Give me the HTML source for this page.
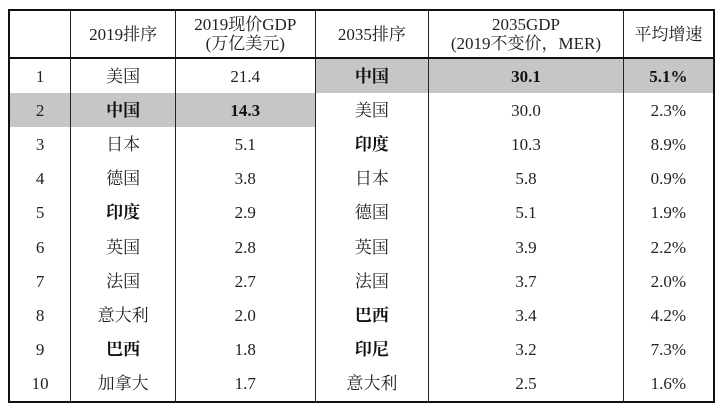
<!DOCTYPE html>
<html><head><meta charset="utf-8"><style>
body{margin:0;background:#fff;width:725px;height:409px;overflow:hidden;position:relative}
table{position:absolute;left:8px;top:9px;width:707px;border-collapse:collapse;font-family:"Liberation Serif","Noto Serif CJK SC",serif;font-size:17px;color:#222;border:2px solid #111}
td{text-align:center;padding:0;border-left:1.5px solid #222;border-right:1.5px solid #222;height:34.2px;line-height:19px}
tr.h td{height:46px;border-bottom:2px solid #111}
.g{background:#c6c6c6}
b{font-weight:bold;color:#111}
</style></head><body>
<table>
<colgroup><col style="width:62px"><col style="width:105px"><col style="width:140px"><col style="width:114px"><col style="width:195px"><col style="width:91px"></colgroup>
<tr class="h"><td></td><td>2019排序</td><td>2019现价GDP<br>(万亿美元)</td><td>2035排序</td><td>2035GDP<br>(2019不变价，MER)</td><td>平均增速</td></tr>
<tr><td>1</td><td>美国</td><td>21.4</td><td class="g"><b>中国</b></td><td class="g"><b>30.1</b></td><td class="g"><b>5.1%</b></td></tr>
<tr><td class="g">2</td><td class="g"><b>中国</b></td><td class="g"><b>14.3</b></td><td>美国</td><td>30.0</td><td>2.3%</td></tr>
<tr><td>3</td><td>日本</td><td>5.1</td><td><b>印度</b></td><td>10.3</td><td>8.9%</td></tr>
<tr><td>4</td><td>德国</td><td>3.8</td><td>日本</td><td>5.8</td><td>0.9%</td></tr>
<tr><td>5</td><td><b>印度</b></td><td>2.9</td><td>德国</td><td>5.1</td><td>1.9%</td></tr>
<tr><td>6</td><td>英国</td><td>2.8</td><td>英国</td><td>3.9</td><td>2.2%</td></tr>
<tr><td>7</td><td>法国</td><td>2.7</td><td>法国</td><td>3.7</td><td>2.0%</td></tr>
<tr><td>8</td><td>意大利</td><td>2.0</td><td><b>巴西</b></td><td>3.4</td><td>4.2%</td></tr>
<tr><td>9</td><td><b>巴西</b></td><td>1.8</td><td><b>印尼</b></td><td>3.2</td><td>7.3%</td></tr>
<tr><td>10</td><td>加拿大</td><td>1.7</td><td>意大利</td><td>2.5</td><td>1.6%</td></tr>
</table>
</body></html>
